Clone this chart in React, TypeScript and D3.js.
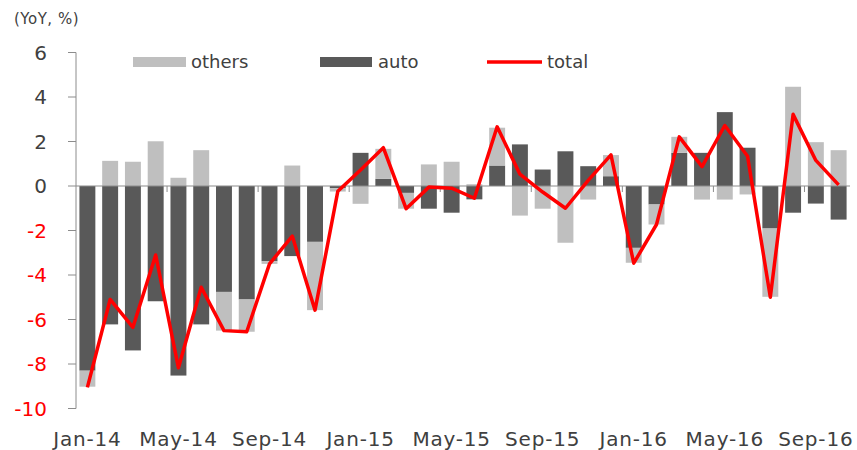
import React from "react";
import * as d3 from "d3";

// monthly YoY contributions, Jan-14 .. Oct-16
const months = [
  "Jan-14", "Feb-14", "Mar-14", "Apr-14", "May-14", "Jun-14", "Jul-14", "Aug-14", "Sep-14", "Oct-14", "Nov-14", "Dec-14",
  "Jan-15", "Feb-15", "Mar-15", "Apr-15", "May-15", "Jun-15", "Jul-15", "Aug-15", "Sep-15", "Oct-15", "Nov-15", "Dec-15",
  "Jan-16", "Feb-16", "Mar-16", "Apr-16", "May-16", "Jun-16", "Jul-16", "Aug-16", "Sep-16", "Oct-16",
];

const autoValues = [
  -8.3, -6.22, -7.39, -5.18, -8.52, -6.22, -4.76, -5.1, -3.38, -3.15, -2.51, -0.1,
  1.49, 0.32, -0.31, -1.02, -1.2, -0.6, 0.92, 1.87, 0.74, 1.56, 0.89, 0.44,
  -2.78, -0.83, 1.49, 1.49, 3.32, 1.72, -1.91, -1.2, -0.79, -1.51,
];

const othersValues = [
  -0.72, 1.13, 1.09, 2.01, 0.37, 1.61, -1.74, -1.45, -0.12, 0.92, -3.07, -0.15,
  -0.8, 1.35, -0.71, 0.97, 1.09, 0.08, 1.7, -1.33, -1.02, -2.55, -0.61, 0.95,
  -0.67, -0.9, 0.72, -0.61, -0.61, -0.38, -3.07, 4.46, 1.97, 1.61,
];

const totalValues = [
  -9.05, -5.1, -6.35, -3.1, -8.17, -4.55, -6.5, -6.55, -3.5, -2.25, -5.58, -0.24,
  0.72, 1.72, -1.02, -0.05, -0.1, -0.55, 2.66, 0.53, -0.27, -1.0, 0.25, 1.4,
  -3.47, -1.73, 2.21, 0.87, 2.72, 1.34, -5.0, 3.22, 1.15, 0.05,
];

const yTicks = [6, 4, 2, 0, -2, -4, -6, -8, -10];
const xLabels = ["Jan-14", "May-14", "Sep-14", "Jan-15", "May-15", "Sep-15", "Jan-16", "May-16", "Sep-16"];

const W = 857;
const H = 450;
const left = 76;
const right = 850;
const top = 52.5;
const bottom = 408.5;

const textDark = "#404040";
const red = "#ff0000";
const axisGray = "#8c8c8c";
const font = "'DejaVu Sans', Verdana, sans-serif";

const App = () => {
  const x = d3.scaleBand<string>().domain(months).range([left, right]).paddingInner(0.3).paddingOuter(0.15);
  const y = d3.scaleLinear().domain([-10, 6]).range([bottom, top]);
  const step = x.step();

  const rows = months.map((m, i) => ({ month: m, auto: autoValues[i], others: othersValues[i] }));
  const series = d3
    .stack<any>()
    .keys(["auto", "others"])
    .offset(d3.stackOffsetDiverging)(rows);

  const colors: Record<string, string> = { auto: "#595959", others: "#bfbfbf" };

  const line = d3
    .line<number>()
    .x((d, i) => (x(months[i]) as number) + x.bandwidth() / 2)
    .y(d => y(d));

  // small category ticks on the zero line, every 4 months
  const catTicks = xLabels.map(l => months.indexOf(l)).filter(i => i > 0);

  return (
    <svg width={W} height={H} style={{ position: "absolute", left: 0, top: 0, fontFamily: font }}>
      <rect width={W} height={H} fill="#fff" />
      <text x={14} y={24} fontSize={15} letterSpacing={0.5} fill={textDark}>(YoY, %)</text>

      {series.map(s => (
        <g key={s.key} fill={colors[s.key]}>
          {s.map((d, i) => (
            <rect
              key={i}
              x={x(months[i])}
              width={x.bandwidth()}
              y={y(Math.max(d[0], d[1]))}
              height={Math.abs(y(d[0]) - y(d[1]))}
            />
          ))}
        </g>
      ))}

      {/* axes */}
      <line x1={left} x2={left} y1={top} y2={bottom} stroke={axisGray} strokeWidth={1} />
      {yTicks.map(t => (
        <g key={t}>
          <line x1={left - 8} x2={left} y1={y(t)} y2={y(t)} stroke={axisGray} />
          <text
            x={47}
            y={y(t)}
            dy="0.36em"
            textAnchor="end"
            fontSize={20}
            fill={t < 0 ? red : textDark}
          >
            {t}
          </text>
        </g>
      ))}
      <line x1={left} x2={right} y1={y(0)} y2={y(0)} stroke={axisGray} strokeWidth={1.2} />
      {catTicks.map(i => (
        <line key={i} x1={left + step * i} x2={left + step * i} y1={y(0)} y2={y(0) + 6} stroke={axisGray} />
      ))}

      <path d={line(totalValues) || ""} fill="none" stroke={red} strokeWidth={3.5} strokeLinejoin="round" />

      {xLabels.map(l => (
        <text
          key={l}
          x={(x(l) as number) + x.bandwidth() / 2}
          y={446}
          textAnchor="middle"
          fontSize={20}
          letterSpacing={0.8}
          fill={textDark}
        >
          {l}
        </text>
      ))}

      {/* legend */}
      <g fontSize={18} fill={textDark}>
        <rect x={133} y={57} width={53} height={10} fill={colors.others} />
        <text x={191} y={68}>others</text>
        <rect x={320} y={57} width={52} height={10} fill={colors.auto} />
        <text x={378} y={68}>auto</text>
        <line x1={487} x2={542} y1={62} y2={62} stroke={red} strokeWidth={3.5} />
        <text x={547} y={68}>total</text>
      </g>
    </svg>
  );
};

export default App;
